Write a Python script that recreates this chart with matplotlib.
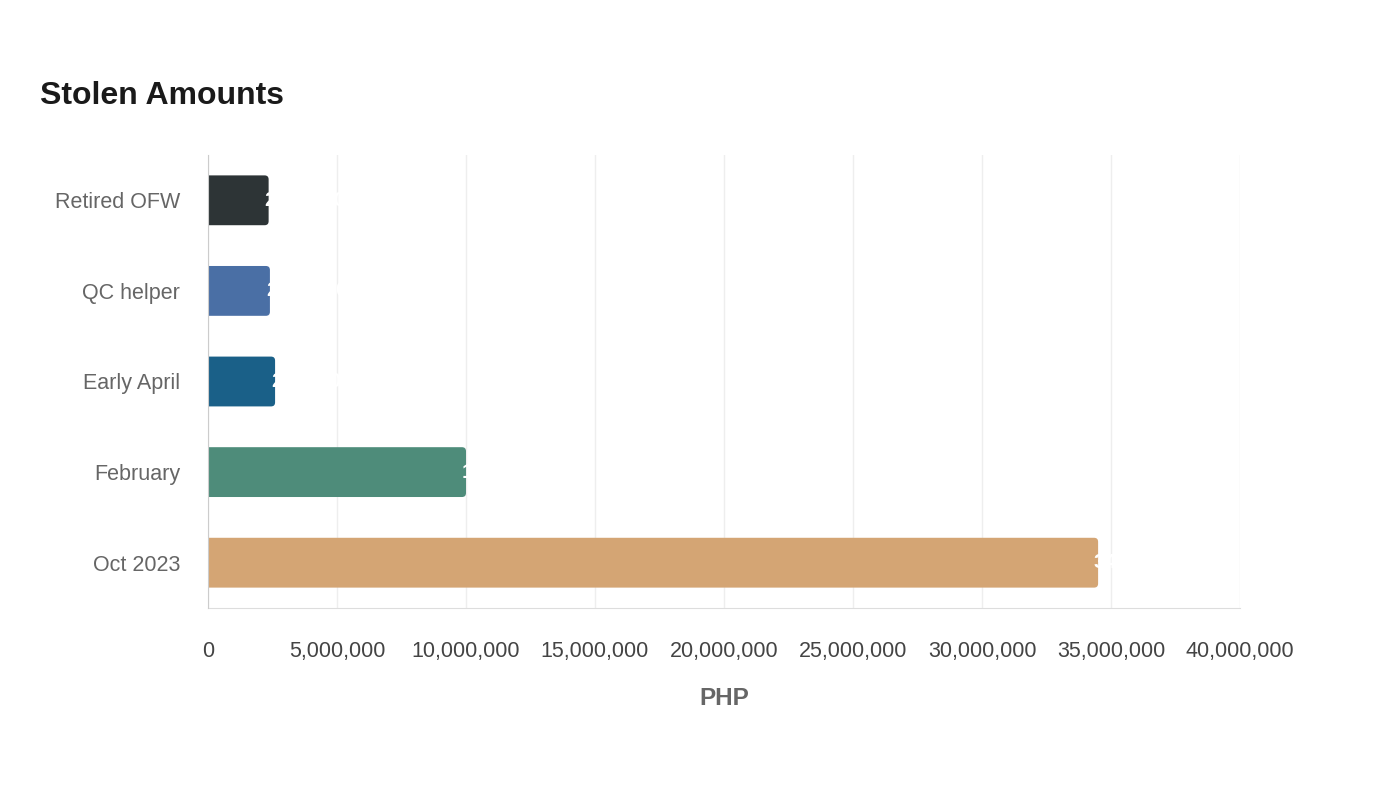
import matplotlib.pyplot as plt
from matplotlib.patches import FancyBboxPatch
from matplotlib.ticker import FuncFormatter

plt.rcParams['font.family'] = ['Liberation Sans', 'DejaVu Sans']

# data (bottom to top)
categories = ['Oct 2023', 'February', 'Early April', 'QC helper', 'Retired OFW']
amounts = [34500000, 10000000, 2600000, 2400000, 2350000]
colors = ['#d4a574', '#4e8c7a', '#1a6088', '#4a6fa5', '#2d3436']

fig = plt.figure(figsize=(14, 8), dpi=100)
ax = fig.add_axes([208 / 1400, 1 - 608 / 800, 1032 / 1400, 453 / 800])

bar_h = 0.55
# ~4 px corner radius: x units per px and y units per px
rx = 40000000 / 1032 * 4
ry = 5 / 453 * 4
for i, (val, col) in enumerate(zip(amounts, colors)):
    # start left of the axis so the left corners get clipped -> square left end
    p = FancyBboxPatch((-2 * rx, i - bar_h / 2), val + 2 * rx, bar_h,
                       boxstyle=f'round,pad=0,rounding_size={rx}',
                       mutation_aspect=ry / rx, fc=col, ec='none', zorder=3)
    ax.add_patch(p)
    ax.annotate(f'{val:,}', (val, i), xytext=(-3, 0), textcoords='offset points',
                ha='left', va='center', color='white', fontsize=15, fontweight='bold', zorder=4)

ax.set_xlim(0, 40000000)
ax.set_ylim(-0.5, 4.5)
ax.set_yticks(range(len(categories)))
ax.set_yticklabels(categories)
ax.set_xticks(range(0, 40000001, 5000000))
ax.xaxis.set_major_formatter(FuncFormatter(lambda v, p: f'{int(v):,}'))

ax.tick_params(axis='y', length=0, pad=20, labelsize=15.5, labelcolor='#666666')
ax.tick_params(axis='x', length=0, pad=24, labelsize=15.5, labelcolor='#444444')

ax.grid(axis='x', color='#eeeeee', linewidth=1, zorder=0)
ax.set_axisbelow(True)
for s in ['top', 'right']:
    ax.spines[s].set_visible(False)
ax.spines['left'].set_color('#cccccc')
ax.spines['left'].set_zorder(5)
ax.spines['bottom'].set_color('#dddddd')

ax.set_xlabel('PHP', fontsize=17.5, fontweight='bold', color='#666666', labelpad=17.5)

fig.text(40 / 1400, 1 - 96 / 800, 'Stolen Amounts', fontsize=23, fontweight='bold',
         color='#1a1a1a', ha='left', va='center')

fig.savefig('out.png', dpi=100, facecolor='white')
